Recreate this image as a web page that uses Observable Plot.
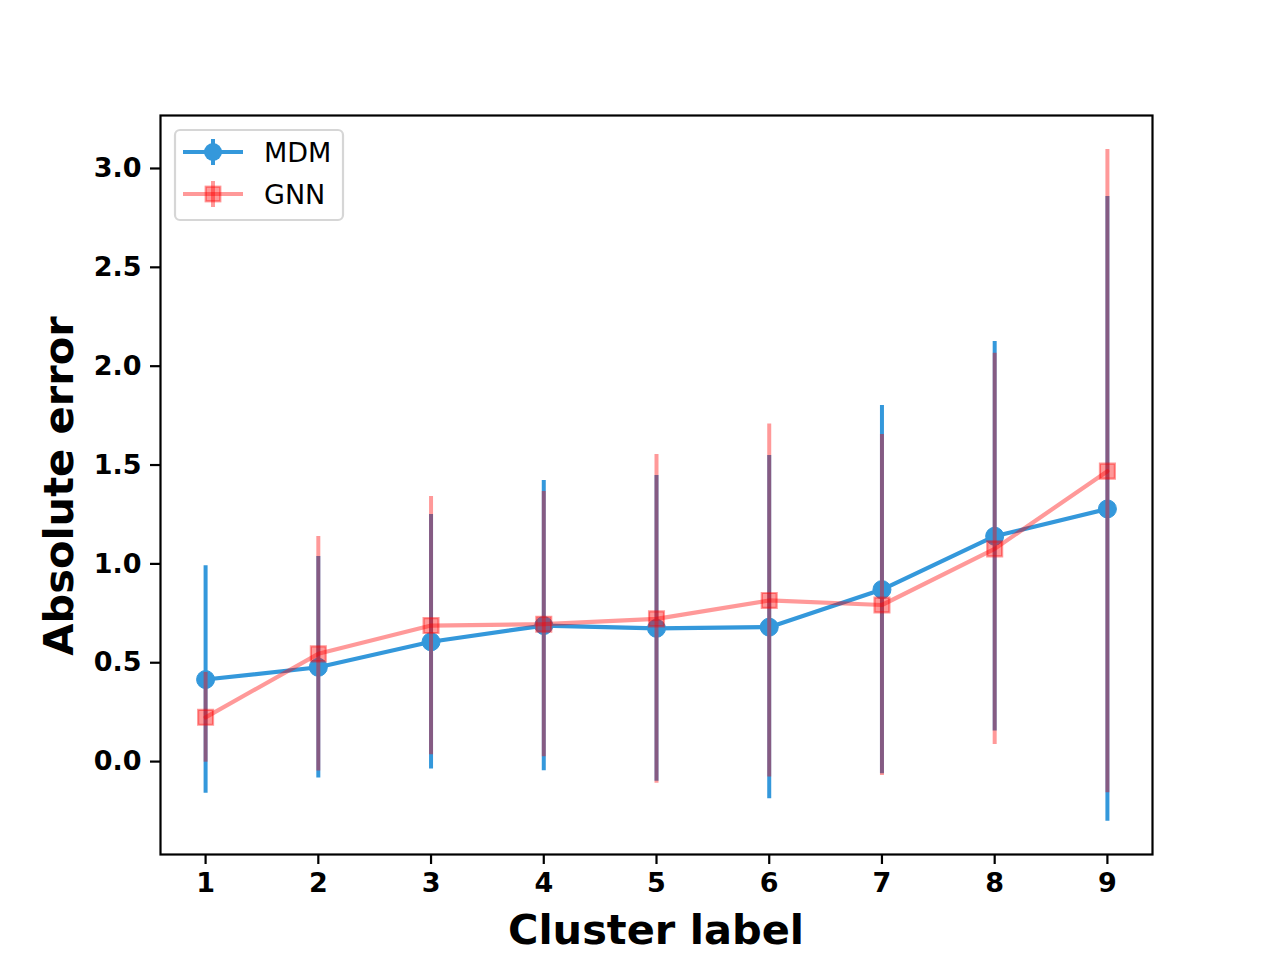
<!DOCTYPE html>
<html>
<head>
<meta charset="utf-8">
<script src="https://cdn.jsdelivr.net/npm/d3@7"></script>
<script src="https://cdn.jsdelivr.net/npm/@observablehq/plot@0.6"></script>
<style>
  html, body { margin: 0; padding: 0; background: #fff; }
  #chart { width: 1280px; height: 960px; }
</style>
</head>
<body>
<div id="chart"></div>
<script>
// ---- data ----
const clusters = [1, 2, 3, 4, 5, 6, 7, 8, 9];
const mdmMean = [0.415, 0.477, 0.606, 0.688, 0.674, 0.680, 0.870, 1.140, 1.278];
const mdmStd  = [0.575, 0.560, 0.644, 0.734, 0.773, 0.868, 0.931, 0.985, 1.580];
const gnnMean = [0.224, 0.545, 0.688, 0.695, 0.722, 0.815, 0.792, 1.076, 1.469];
const gnnStd  = [0.227, 0.593, 0.653, 0.671, 0.831, 0.893, 0.862, 0.990, 1.627];
const xTicks = [1, 2, 3, 4, 5, 6, 7, 8, 9];
const yTicks = [0, 0.5, 1.0, 1.5, 2.0, 2.5, 3.0];
const seriesNames = ["MDM", "GNN"];

const blue = "#3498db";
const red = "#ff0000";

const mdm = clusters.map((c, i) => ({c, m: mdmMean[i], lo: mdmMean[i] - mdmStd[i], hi: mdmMean[i] + mdmStd[i]}));
const gnn = clusters.map((c, i) => ({c, m: gnnMean[i], lo: gnnMean[i] - gnnStd[i], hi: gnnMean[i] + gnnStd[i]}));

const chart = Plot.plot({
  width: 1280,
  height: 960,
  marginLeft: 160,
  marginRight: 128,
  marginTop: 115,
  marginBottom: 106,
  style: {fontFamily: "DejaVu Sans", background: "#fff", color: "#000"},
  x: {domain: [0.6, 9.4]},
  y: {domain: [-0.47, 3.268]},
  marks: [
    Plot.ruleX(mdm, {x: "c", y1: "lo", y2: "hi", stroke: blue, strokeWidth: 4}),
    Plot.line(mdm, {x: "c", y: "m", stroke: blue, strokeWidth: 4.2}),
    Plot.dot(mdm, {x: "c", y: "m", r: 9, fill: blue, stroke: blue, strokeWidth: 1}),
    Plot.ruleX(gnn, {x: "c", y1: "lo", y2: "hi", stroke: red, strokeOpacity: 0.4, strokeWidth: 4}),
    Plot.line(gnn, {x: "c", y: "m", stroke: red, strokeOpacity: 0.4, strokeWidth: 4.2}),
    Plot.dot(gnn, {x: "c", y: "m", symbol: "square", r: 8.4, fill: red, fillOpacity: 0.4, stroke: red, strokeOpacity: 0.4, strokeWidth: 2.2}),
    Plot.frame({stroke: "#000", strokeWidth: 2.2}),
    Plot.axisX({ticks: xTicks, tickSize: 10, tickPadding: 8, strokeWidth: 2.2, fontSize: 27, fontWeight: "bold", label: null, tickFormat: d3.format("d")}),
    Plot.axisY({ticks: yTicks, tickSize: 10, tickPadding: 9, strokeWidth: 2.2, fontSize: 27, fontWeight: "bold", label: null, tickFormat: d3.format(".1f")})
  ]
});

document.getElementById("chart").appendChild(chart);

// axis titles and legend
const svg = d3.select(chart);
svg.append("text")
  .attr("x", 656).attr("y", 944)
  .attr("text-anchor", "middle")
  .attr("font-family", "DejaVu Sans").attr("font-weight", "bold").attr("font-size", 41.5)
  .attr("fill", "#000")
  .text("Cluster label");
svg.append("text")
  .attr("transform", "translate(73,486) rotate(-90)")
  .attr("text-anchor", "middle")
  .attr("font-family", "DejaVu Sans").attr("font-weight", "bold").attr("font-size", 41.5)
  .attr("fill", "#000")
  .text("Absolute error");

const lg = svg.append("g");
lg.append("rect")
  .attr("x", 175).attr("y", 130).attr("width", 168).attr("height", 90)
  .attr("rx", 5).attr("fill", "#fff").attr("fill-opacity", 0.8)
  .attr("stroke", "#d6d6d6").attr("stroke-width", 2.2);
seriesNames.forEach((name, i) => {
  const yy = 152 + i * 42;
  const g = lg.append("g");
  if (i === 0) {
    g.append("line").attr("x1", 183).attr("x2", 243).attr("y1", yy).attr("y2", yy).attr("stroke", blue).attr("stroke-width", 4.2);
    g.append("line").attr("x1", 213).attr("x2", 213).attr("y1", yy - 13).attr("y2", yy + 13).attr("stroke", blue).attr("stroke-width", 4);
    g.append("circle").attr("cx", 213).attr("cy", yy).attr("r", 9).attr("fill", blue);
  } else {
    g.append("line").attr("x1", 183).attr("x2", 243).attr("y1", yy).attr("y2", yy).attr("stroke", red).attr("stroke-opacity", 0.4).attr("stroke-width", 4.2);
    g.append("line").attr("x1", 213).attr("x2", 213).attr("y1", yy - 13).attr("y2", yy + 13).attr("stroke", red).attr("stroke-opacity", 0.4).attr("stroke-width", 4);
    g.append("rect").attr("x", 213 - 7.3).attr("y", yy - 7.3).attr("width", 14.6).attr("height", 14.6)
      .attr("fill", red).attr("fill-opacity", 0.4).attr("stroke", red).attr("stroke-opacity", 0.4).attr("stroke-width", 2.2);
  }
  g.append("text").attr("x", 264).attr("y", yy + 10)
    .attr("text-anchor", "start")
    .attr("font-family", "DejaVu Sans").attr("font-size", 27).attr("fill", "#000")
    .text(name);
});
</script>
</body>
</html>
